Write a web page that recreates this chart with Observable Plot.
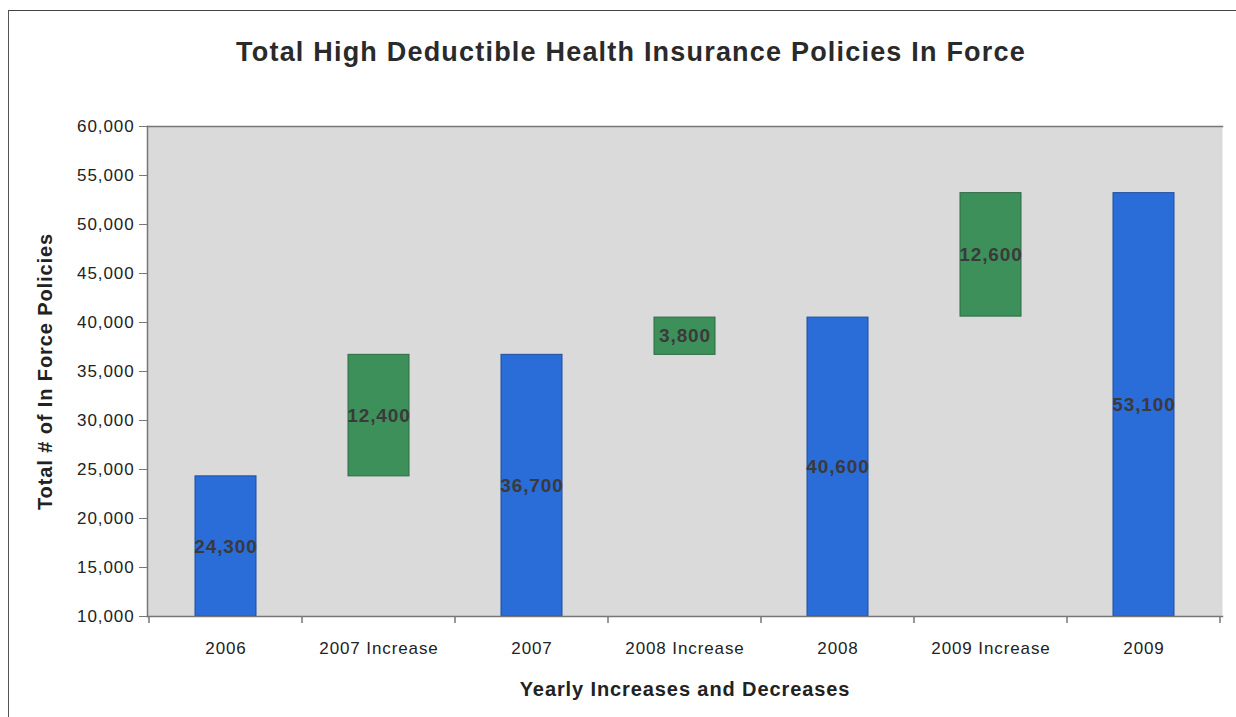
<!DOCTYPE html>
<html>
<head>
<meta charset="utf-8">
<script src="https://cdn.jsdelivr.net/npm/d3@7"></script>
<script src="https://cdn.jsdelivr.net/npm/@observablehq/plot@0.6"></script>
<style>
  html, body { margin: 0; padding: 0; background: #fff; }
  #wrap { position: relative; width: 1236px; height: 717px; overflow: hidden; font-family: "Liberation Sans", Arial, sans-serif; }
  #frame { position: absolute; left: 8px; top: 10px; width: 1240px; height: 720px; border-left: 1.5px solid #555; border-top: 1.5px solid #444; }
  #title { position: absolute; left: 13px; width: 1236px; top: 37px; text-align: center; font-weight: bold; font-size: 27px; color: #2a2a2a; letter-spacing: 1.2px; }
  #chart { position: absolute; left: 0; top: 0; }
</style>
</head>
<body>
<div id="wrap">
  <div id="frame"></div>
  <div id="chart"></div>
  <div id="title">Total High Deductible Health Insurance Policies In Force</div>
</div>
<script>
// Data
const categories = ["2006", "2007 Increase", "2007", "2008 Increase", "2008", "2009 Increase", "2009"];
const kinds      = ["total", "increase", "total", "increase", "total", "increase", "total"];
const barLow     = [10000, 24300, 10000, 36700, 10000, 40600, 10000];
const barHigh    = [24300, 36700, 36700, 40500, 40500, 53200, 53200];
const barLabels  = ["24,300", "12,400", "36,700", "3,800", "40,600", "12,600", "53,100"];
const yTicks     = [10000, 15000, 20000, 25000, 30000, 35000, 40000, 45000, 50000, 55000, 60000];

const rows = categories.map((c, i) => ({
  cat: c, kind: kinds[i], y1: barLow[i], y2: barHigh[i], label: barLabels[i],
  mid: (barLow[i] + barHigh[i]) / 2
}));

const chart = Plot.plot({
  width: 1236,
  height: 717,
  marginTop: 126,
  marginBottom: 101,
  marginLeft: 147,
  marginRight: 14,
  style: { fontFamily: "'Liberation Sans', Arial, sans-serif", fontSize: "17px", color: "#222", background: "transparent", overflow: "visible", letterSpacing: "0.9px" },
  x: { domain: categories, paddingInner: 0.6, paddingOuter: 0.3, label: null },
  y: { domain: [10000, 60000], label: null },
  color: { domain: ["total", "increase"], range: ["#2a6cd8", "#3e905a"] },
  marks: [
    Plot.frame({ fill: "#dadada", stroke: null }),
    Plot.frame({ anchor: "top", stroke: "#777", strokeWidth: 1.5 }),
    Plot.rectY(rows, { x: "cat", y1: "y1", y2: "y2", fill: "kind", stroke: d => d.kind === "total" ? "#1d4f9e" : "#2d6a43", strokeWidth: 1 }),
    Plot.text(rows, { x: "cat", y: "mid", text: "label", fontWeight: "bold", fontSize: 19, fill: "#3a3a3a" }),
    Plot.axisY({ ticks: yTicks, tickFormat: d3.format(","), tickSize: 8, tickPadding: 5, stroke: "#777", fill: "#222", fontSize: 17,
                 label: "Total # of In Force Policies", labelAnchor: "center", labelArrow: "none", labelOffset: 110 }),
    Plot.frame({ anchor: "left", stroke: "#777", strokeWidth: 1.5 }),
    Plot.frame({ anchor: "bottom", stroke: "#777", strokeWidth: 1.5 }),
    Plot.axisX({ tickSize: 0, tickPadding: 25, fontSize: 17, fill: "#222",
                 label: "Yearly Increases and Decreases", labelAnchor: "center", labelArrow: "none", labelOffset: 79 })
  ]
});

// style axis labels bold
d3.select(chart).selectAll("g[aria-label='y-axis label'] text, g[aria-label='x-axis label'] text")
  .attr("font-weight", "bold").attr("font-size", 20).attr("fill", "#222");

// x tick marks at category boundaries (Excel style), computed from the band scale
const xs = chart.scale("x");
const ys = chart.scale("y");
const step = xs.step;
const bottom = ys.apply(10000);
const bounds = categories.map(c => xs.apply(c) + xs.bandwidth / 2 - step / 2);
bounds.push(xs.apply(categories[categories.length - 1]) + xs.bandwidth / 2 + step / 2);
d3.select(chart).append("g").attr("aria-label", "x-boundary-ticks")
  .selectAll("line").data(bounds).join("line")
  .attr("x1", d => d).attr("x2", d => d)
  .attr("y1", bottom).attr("y2", bottom + 7)
  .attr("stroke", "#777").attr("stroke-width", 1.5);

document.getElementById("chart").appendChild(chart);
</script>
</body>
</html>
